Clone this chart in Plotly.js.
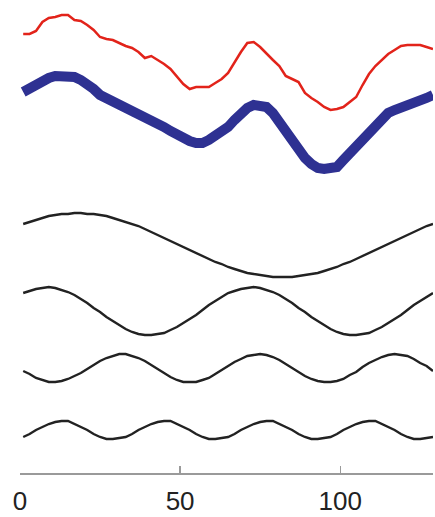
<!DOCTYPE html>
<html>
<head>
<meta charset="utf-8">
<script src="https://cdn.plot.ly/plotly-3.0.1.min.js"></script>
<style>html,body{margin:0;padding:0;background:#fff;}#chart{width:435px;height:517px;}</style>
</head>
<body>
<div id="chart"></div>
<script>
// sample positions (odd integers 1..129)
const xs = [1,3,5,7,9,11,13,15,17,19,21,23,25,27,29,31,33,35,37,39,41,43,45,47,49,51,53,55,57,59,61,63,65,67,69,71,73,75,77,79,81,83,85,87,89,91,93,95,97,99,101,103,105,107,109,111,113,115,117,119,121,123,125,127,129];

// values (arbitrary vertical units, stacked)
const redSeries = [439,439,442,451,455,456,458,458,453,452,448,443,436,434,433,430,427,425,421,415,417,413,409,404,397,389,384,386,386,386,390,394,400,411,421,430,431,426,419,413,407,397,394,391,380,375,371,366,363,364,366,371,376,388,399,407,413,419,423,427,428,428,428,426,424];

const blueSeries = [381,385,389,392,395,397,397,397,396,393,389,384,378,375,371,368,366,362,359,357,354,350,346,342,338,335,332,330,330,333,337,341,346,353,360,365,368,368,366,360,351,341,332,322,315,309,305,304,305,306,313,320,328,335,342,349,355,360,363,365,367,369,372,375,378];

const wave1 = [249,251,253,255,257,258,259,259,260,260,259,259,258,257,255,253,251,249,247,244,241,238,235,232,229,226,223,220,217,214,211,209,206,204,202,200,199,198,197,196,196,196,196,197,198,199,200,202,204,206,209,211,214,217,220,223,226,229,232,235,238,241,244,247,249];

const wave2 = [180,182,184,185,186,185,183,181,178,174,170,165,161,156,152,148,144,141,139,138,138,139,140,143,146,150,154,158,163,168,172,176,180,182,184,185,186,185,183,181,178,174,170,165,161,156,152,148,144,141,139,138,138,139,140,143,146,150,154,158,163,168,172,176,180];

const wave3 = [102,99,95,93,91,91,92,94,97,100,104,108,112,115,117,119,119,117,115,112,108,104,100,96,93,91,91,91,93,95,99,103,107,111,114,117,118,119,118,116,113,109,105,101,97,94,92,91,91,92,94,98,101,106,110,113,116,118,119,118,117,114,110,107,102];

const wave4 = [36,39,43,46,49,51,52,52,49,46,43,39,36,34,34,35,36,39,43,46,49,51,52,52,49,46,43,39,36,34,34,35,36,39,43,46,49,51,52,52,49,46,43,39,36,34,34,35,36,39,43,46,49,51,52,52,49,46,43,39,36,34,34,35,36];

const tickValues = [0, 50, 100];
const tickLabels = ['0', '50', '100'];

function line(y, color, width) {
  return {x: xs, y: y, type: 'scatter', mode: 'lines',
          line: {color: color, width: width}, hoverinfo: 'skip', showlegend: false};
}

const traces = [
  line(redSeries, '#e2231a', 2.5),
  line(blueSeries, '#2e3192', 10),
  line(wave1, '#222222', 2.4),
  line(wave2, '#222222', 2.4),
  line(wave3, '#222222', 2.4),
  line(wave4, '#222222', 2.4)
];

const layout = {
  width: 435, height: 517,
  margin: {l: 20, r: 2, t: 0, b: 44, pad: 0},
  paper_bgcolor: '#ffffff', plot_bgcolor: '#ffffff',
  showlegend: false,
  xaxis: {
    range: [0, 129], tickvals: tickValues, ticktext: tickLabels,
    ticks: 'inside', ticklen: 7, tickwidth: 1.2, tickcolor: '#9a9a9a',
    showline: true, linecolor: '#9a9a9a', linewidth: 1.5,
    showgrid: false, zeroline: false, ticklabelstandoff: 4,
    tickfont: {family: 'Liberation Sans, Arial, sans-serif', size: 26, color: '#222222'}
  },
  yaxis: {range: [0, 473], visible: false, showgrid: false, zeroline: false}
};

Plotly.newPlot('chart', traces, layout, {staticPlot: true, displayModeBar: false});
</script>
</body>
</html>
